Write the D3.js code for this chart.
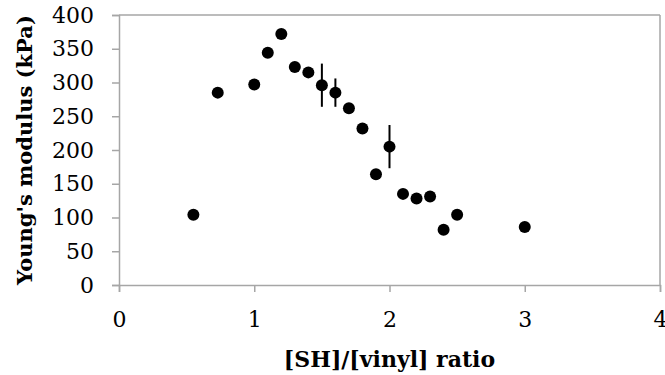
<!DOCTYPE html>
<html><head><meta charset="utf-8">
<script src="https://cdn.jsdelivr.net/npm/d3@7"></script>
<style>body{margin:0;background:#fff}svg{display:block}</style>
</head><body>
<svg id="c" width="665" height="375"></svg>
<script>
const ratio   = [0.55, 0.73, 1.0, 1.1, 1.2, 1.3, 1.4, 1.5, 1.6, 1.7, 1.8, 1.9, 2.0, 2.1, 2.2, 2.3, 2.4, 2.5, 3.0];
const modulus = [104, 285, 297, 344, 372, 323, 315, 296, 285, 262, 232, 164, 205, 135, 128, 131, 82, 104, 86];
const errBar  = [0, 0, 0, 0, 0, 0, 0, 32, 21, 0, 0, 0, 32, 0, 0, 0, 0, 0, 0];
const xTicks = [0, 1, 2, 3, 4];
const yTicks = [0, 50, 100, 150, 200, 250, 300, 350, 400];
const xTitle = "[SH]/[vinyl] ratio";
const yTitle = "Young's modulus (kPa)";

const svg = d3.select("#c");
const L = 119, R = 660, T = 15, B = 285;
const x = d3.scaleLinear().domain([0, 4]).range([L, R]);
const y = d3.scaleLinear().domain([0, 400]).range([B, T]);
const font = "'DejaVu Serif', serif";
const gray = "#a6a6a6";

// frame top/right
svg.append("line").attr("x1", L).attr("x2", R).attr("y1", T).attr("y2", T).attr("stroke", gray).attr("stroke-width", 1.5);
svg.append("line").attr("x1", R).attr("x2", R).attr("y1", T).attr("y2", B).attr("stroke", gray).attr("stroke-width", 1.5);

const xa = svg.append("g").attr("transform", `translate(0,${B})`)
  .call(d3.axisBottom(x).tickValues(xTicks).tickSize(7).tickPadding(19).tickFormat(d3.format("d")));
const ya = svg.append("g").attr("transform", `translate(${L},0)`)
  .call(d3.axisLeft(y).tickValues(yTicks).tickSize(7).tickPadding(18).tickFormat(d3.format("d")));
[xa, ya].forEach(a => {
  a.select(".domain").attr("stroke", gray).attr("stroke-width", 1.5);
  a.selectAll(".tick line").attr("stroke", gray).attr("stroke-width", 1.5);
  a.selectAll("text").attr("font-family", font).attr("font-size", 22).attr("fill", "#000");
});

// error bars
const data = ratio.map((r, i) => ({r, m: modulus[i], e: errBar[i]}));
svg.append("g").selectAll("line").data(data.filter(d => d.e > 0)).join("line")
  .attr("x1", d => x(d.r)).attr("x2", d => x(d.r))
  .attr("y1", d => y(d.m + d.e)).attr("y2", d => y(d.m - d.e))
  .attr("stroke", "#000").attr("stroke-width", 2);

svg.append("g").selectAll("circle").data(data).join("circle")
  .attr("cx", d => x(d.r)).attr("cy", d => y(d.m)).attr("r", 6).attr("fill", "#000");

svg.append("text").attr("x", (L + R) / 2).attr("y", 367).attr("text-anchor", "middle")
  .attr("font-family", font).attr("font-weight", "bold").attr("font-size", 22).text(xTitle);
svg.append("text").attr("transform", `translate(32,${(T + B) / 2}) rotate(-90)`).attr("text-anchor", "middle")
  .attr("font-family", font).attr("font-weight", "bold").attr("font-size", 21).text(yTitle);
</script>
</body></html>
